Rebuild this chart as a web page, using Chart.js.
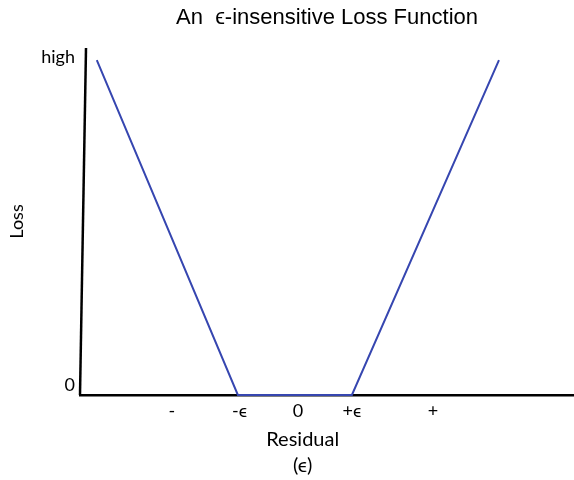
<!DOCTYPE html>
<html>
<head>
<meta charset="utf-8">
<script src="https://cdn.jsdelivr.net/npm/chart.js@4.4.1/dist/chart.umd.min.js"></script>
<style>
  html, body { margin: 0; padding: 0; background: #fff; }
  #wrap { width: 574px; height: 480px; }
</style>
</head>
<body>
<div id="wrap"><canvas id="lossChart"></canvas></div>
<script>
// data (residual in arbitrary units, loss from 0 to "high" = 1)
const lossX = [-3.35, -1.0, 0.9, 3.35];
const lossY = [1, 0, 0, 1];

// hand drawn y axis, slightly slanted
const axisX = [-3.63, -3.53];
const axisY = [0, 1.036];

const xTickValues = [-2.1, -0.97, 0, 0.9, 2.25];
const xTickLabels = ["-", "-\u03f5", "0", "+\u03f5", "+"];
const yTickValues = [0.03, 1.01];
const yTickLabels = ["0", "high"];

const xTitleLines = ["Residual", "(\u03f5)"];

// x axis title is drawn a bit left of centre in the original
const xTitlePlugin = {
  id: "xTitle",
  afterDraw(chart) {
    const ctx = chart.ctx;
    const x = chart.scales.x.getPixelForValue(0.08);
    ctx.save();
    ctx.fillStyle = "#000";
    ctx.font = "20px Lato";
    ctx.textAlign = "center";
    ctx.textBaseline = "middle";
    ctx.fillText(xTitleLines[0], x, 440);
    ctx.fillText(xTitleLines[1], x, 466);
    ctx.restore();
  },
};

new Chart(document.getElementById("lossChart"), {
  type: "line",
  data: {
    datasets: [
      {
        label: "Loss",
        data: lossX.map((x, i) => ({ x: x, y: lossY[i] })),
        borderColor: "#3646b0",
        borderWidth: 2,
        pointRadius: 0,
        tension: 0,
        clip: false,
      },
      {
        label: "axis",
        data: axisX.map((x, i) => ({ x: x, y: axisY[i] })),
        borderColor: "#000",
        borderWidth: 2.5,
        pointRadius: 0,
        tension: 0,
        clip: false,
      },
    ],
  },
  options: {
    responsive: true,
    maintainAspectRatio: false,
    animation: false,
    layout: { padding: { left: 0, right: 0 } },
    plugins: {
      legend: { display: false },
      tooltip: { enabled: false },
      title: {
        display: true,
        fullSize: false,
        text: "An  \u03f5-insensitive Loss Function",
        color: "#000",
        font: { family: "Liberation Sans", size: 22, weight: "normal" },
        padding: { top: 5, bottom: 16.6 },
      },
    },
    scales: {
      x: {
        type: "linear",
        min: -3.63,
        max: 4.6,
        grid: { display: false, drawTicks: false },
        border: { display: true, color: "#000", width: 2.5 },
        afterBuildTicks: (scale) => {
          scale.ticks = xTickValues.map((v) => ({ value: v }));
        },
        afterFit: (scale) => {
          scale.height = 85;
        },
        ticks: {
          color: "#000",
          font: { family: "Lato", size: 18 },
          padding: 5,
          autoSkip: false,
          maxRotation: 0,
          callback: (v, i) => xTickLabels[i],
        },
      },
      y: {
        type: "linear",
        min: 0,
        max: 1.036,
        grid: { display: false, drawTicks: false },
        border: { display: false },
        afterBuildTicks: (scale) => {
          scale.ticks = yTickValues.map((v) => ({ value: v }));
        },
        afterFit: (scale) => {
          scale.width = 80;
        },
        ticks: {
          color: "#000",
          font: { family: "Lato", size: 18 },
          padding: 5,
          callback: (v, i) => yTickLabels[i],
        },
        title: {
          display: true,
          text: "Loss",
          color: "#000",
          font: { family: "Lato", size: 18 },
          padding: { top: 6, bottom: 0 },
        },
      },
    },
  },
  plugins: [xTitlePlugin],
});
</script>
</body>
</html>
